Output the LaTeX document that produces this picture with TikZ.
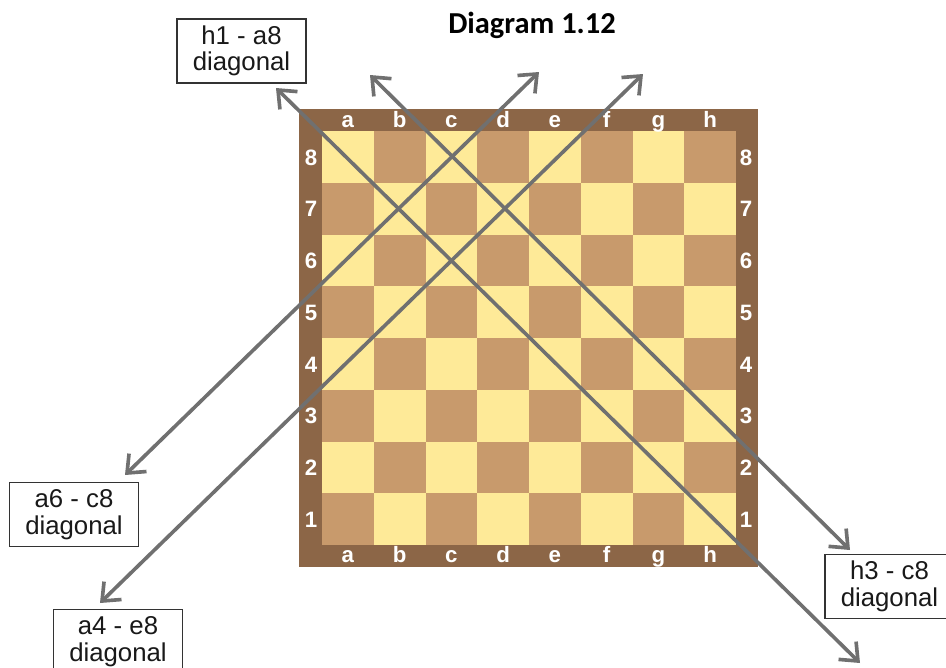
\documentclass[tikz,border=0pt]{standalone}
\usepackage{fontspec}
\setmainfont{Liberation Sans}
\newfontfamily\titlefont{Carlito}
\usetikzlibrary{arrows.meta}
\definecolor{boardframe}{HTML}{8C6647}
\definecolor{darksq}{HTML}{C89A6C}
\definecolor{lightsq}{HTML}{FEEA98}
\definecolor{arrowgray}{HTML}{707070}

\begin{document}
\begin{tikzpicture}[x=0.03cm,y=0.03cm]
\tikzset{diag/.style={arrowgray,line width=3.1pt,{Straight Barb[length=4.5mm,width=7.5mm]}-{Straight Barb[length=4.5mm,width=7.5mm]}}}
\tikzset{tag/.style={draw=black!80,line width=1.3pt,fill=white,align=center,minimum width=110pt,minimum height=55pt,inner sep=0pt,text=black!90,font=\fontsize{22}{22.5}\selectfont}}
\tikzset{coord/.style={text=white,inner sep=0pt,anchor=base,font=\fontsize{19}{19}\selectfont\bfseries}}
\useasboundingbox (0,0) rectangle (946,-667);
\clip (0,0) rectangle (946,-667);
% board
\fill[boardframe] (299,-109) rectangle (758,-567);
\foreach \f in {1,...,8}
  \foreach \r in {1,...,8} {
    \pgfmathtruncatemacro\odd{mod(\f+\r,2)}
    \ifnum\odd=0 \def\sq{darksq}\else\def\sq{lightsq}\fi
    \fill[\sq] ({322+(\f-1)*51.75},{-545+(\r-1)*51.75}) rectangle ++(51.75,51.75);
  }
\foreach \l [count=\i] in {a,b,c,d,e,f,g,h} {
  \node[coord] (top-\l) at ({296.125+51.75*\i},-127) {\l};
  \node[coord] (bot-\l) at ({296.125+51.75*\i},-562) {\l};
}
\foreach \i in {1,...,8} {
  \node[coord] (left-\i) at (311,{-579+51.75*\i}) {\i};
  \node[coord] (right-\i) at (746,{-579+51.75*\i}) {\i};
}
\node[font=\titlefont\fontsize{26}{28}\selectfont\bfseries] (title) at (532,-25) {Diagram 1.12};
% labels
\node[tag] (h1a8) at (241.5,-51) {h1 - a8\\diagonal};
\node[tag] (a6c8) at (74,-514.5) {a6 - c8\\diagonal};
\node[tag] (a4e8) at (118,-641.5) {a4 - e8\\diagonal};
\node[tag] (h3c8) at (889.5,-586.5) {h3 - c8\\diagonal};
% arrow ends
\coordinate (h1a8-up) at (276,-88);
\coordinate (h1a8-down) at (860,-663);
\coordinate (h3c8-up) at (370,-75);
\coordinate (h3c8-down) at (850,-550);
\coordinate (a6c8-down) at (125,-475);
\coordinate (a6c8-up) at (539,-72);
\coordinate (a4e8-down) at (100,-603);
\coordinate (a4e8-up) at (643,-74);
\path[diag] (h1a8-down) edge (h1a8-up);
\path[diag] (h3c8-up) edge (h3c8-down);
\path[diag] (a6c8-up) edge (a6c8-down);
\path[diag] (a4e8-up) edge (a4e8-down);
\end{tikzpicture}
\end{document}
